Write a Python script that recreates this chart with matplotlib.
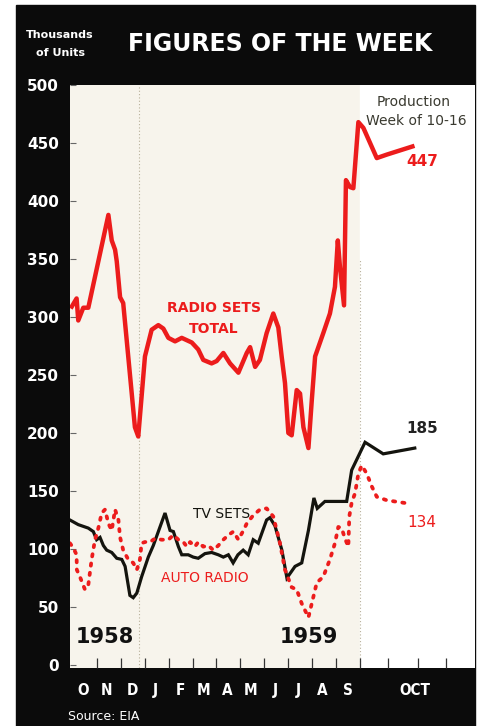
import matplotlib
matplotlib.use("Agg")
import matplotlib.pyplot as plt
from matplotlib.patches import Rectangle
import matplotlib.transforms as mtransforms

# x positions in months from Oct 1 1958 (Oct 1959 weeks on an expanded scale)
total_x = [-0.05, 0.15, 0.22, 0.43, 0.64, 1.48, 1.62, 1.76, 1.83, 1.97, 2.10, 2.59, 2.73,
           3.01, 3.29, 3.57, 3.78, 3.99, 4.27, 4.55, 4.97, 5.24, 5.45, 5.80, 6.01, 6.29,
           6.57, 6.92, 7.27, 7.41, 7.62, 7.82, 8.10, 8.38, 8.59, 8.73, 8.87, 9.01, 9.15,
           9.36, 9.50, 9.64, 9.85, 9.99, 10.13, 10.47, 10.75, 10.96, 11.08, 11.17, 11.34,
           11.42, 11.59, 11.73, 11.94, 12.15, 12.71, 13.13, 14.20]
total_y = [309, 316, 297, 308, 308, 388, 366, 358, 348, 317, 312, 205, 197,
           266, 289, 293, 290, 282, 279, 282, 278, 272, 263, 260, 262, 269,
           260, 252, 269, 274, 257, 263, 286, 303, 291, 266, 243, 200, 198,
           237, 234, 205, 187, 228, 266, 286, 303, 326, 366, 343, 310,
           418, 412, 411, 468, 463, 437, 440, 447]

tv_x = [-0.13, 0.22, 0.64, 0.85, 0.99, 1.13, 1.27, 1.41, 1.62, 1.83, 2.04, 2.18, 2.38,
        2.52, 2.67, 2.87, 3.15, 3.36, 3.57, 3.85, 4.06, 4.20, 4.41, 4.55, 4.82, 5.03,
        5.24, 5.52, 5.80, 6.08, 6.29, 6.50, 6.70, 6.90, 7.12, 7.33, 7.54, 7.75, 8.10,
        8.24, 8.45, 8.74, 8.95, 9.29, 9.57, 9.85, 10.08, 10.22, 10.54, 11.45, 11.66,
        11.94, 12.22, 12.98, 14.30]
tv_y = [125, 121, 118, 115, 108, 110, 103, 99, 97, 92, 91, 85, 60,
        58, 62, 76, 93, 103, 115, 131, 116, 115, 102, 95, 95, 93,
        92, 96, 97, 95, 93, 95, 88, 95, 99, 95, 108, 105, 125,
        127, 120, 99, 75, 85, 88, 116, 144, 135, 141, 141, 168,
        180, 192, 182, 187]

auto_x = [-0.13, 0.01, 0.15, 0.16, 0.29, 0.50, 0.64, 0.78, 0.92, 1.06, 1.20, 1.34, 1.48,
          1.62, 1.76, 1.90, 1.97, 2.10, 2.31, 2.52, 2.67, 2.80, 2.87, 3.01, 3.22, 3.43,
          3.71, 3.99, 4.20, 4.41, 4.62, 4.76, 4.90, 5.10, 5.24, 5.45, 5.66, 5.87, 6.08,
          6.29, 6.50, 6.71, 6.92, 7.13, 7.27, 7.54, 7.82, 8.10, 8.38, 8.66, 8.87, 9.15,
          9.36, 9.57, 9.85, 9.99, 10.20, 10.47, 10.75, 10.96, 11.10, 11.24, 11.38, 11.52,
          11.56, 11.66, 11.80, 11.94, 12.08, 12.29, 12.50, 12.71, 13.13, 14.10]
auto_y = [105, 101, 95, 82, 76, 65, 69, 91, 108, 118, 131, 134, 122,
          116, 134, 125, 110, 99, 91, 88, 82, 91, 105, 106, 106, 109,
          108, 108, 112, 108, 106, 102, 106, 102, 106, 102, 103, 99, 103,
          108, 112, 115, 108, 116, 122, 129, 134, 135, 128, 105, 82, 67,
          65, 53, 41, 53, 71, 76, 91, 105, 119, 118, 109, 102,
          128, 140, 148, 165, 172, 165, 154, 145, 142, 139]

y_ticks = [0, 50, 100, 150, 200, 250, 300, 350, 400, 450, 500]
month_ticks = [1, 2, 3, 4, 5, 6, 7, 8, 9, 10, 11, 12, 13.2, 14.45, 15.6]
month_labels = ["O", "N", "D", "J", "F", "M", "A", "M", "J", "J", "A", "S", "OCT"]
month_label_x = [0.42, 1.42, 2.5, 3.43, 4.48, 5.48, 6.44, 7.45, 8.45, 9.41, 10.42, 11.5, 14.3]

RED = "#ec1c1c"
DARK = "#14140e"

W, H = 484, 726
fig = plt.figure(figsize=(W / 100, H / 100), dpi=100)
fig.patch.set_facecolor("white")

# black frame behind everything
bg = fig.add_axes([0, 0, 1, 1], zorder=-5)
bg.set_xlim(0, W)
bg.set_ylim(H, 0)
bg.axis("off")
bg.add_patch(Rectangle((16, 5), 475 - 16, H - 5, color="#0b0b0b"))

ax = fig.add_axes([70 / W, (H - 668) / H, (475 - 70) / W, (668 - 85) / H])
ax.set_facecolor("#f7f4ec")
ax.axvspan(12, 17, color="white", zorder=0)
ax.set_xlim(-0.126, 16.82)
ax.set_ylim(-2.6, 500)
for s in ax.spines.values():
    s.set_visible(False)

ax.axvline(2.75, color="#b8b09a", lw=0.8, ls=(0, (1, 2)), zorder=1)
ax.plot([12, 12], [0, 350], color="#b8b09a", lw=0.8, ls=(0, (1, 2)), zorder=1)

ax.plot(tv_x, tv_y, color=DARK, lw=2.3, solid_joinstyle="miter", zorder=3)
ax.plot(auto_x, auto_y, color=RED, lw=2.7, ls=(0, (0.6, 1.9)),
        dash_capstyle="round", zorder=4)
ax.plot(total_x, total_y, color=RED, lw=3.2, solid_joinstyle="round", zorder=5)

ax.set_yticks(y_ticks)
ax.set_yticklabels([str(v) for v in y_ticks], fontsize=11, fontweight="bold")
ax.tick_params(axis="y", direction="in", length=4, width=0.8, color="#666",
               labelcolor="white", pad=8)
ax.set_xticks(month_ticks)
ax.set_xticklabels([])
ax.tick_params(axis="x", direction="in", length=7, width=0.9, color="#333")

tr = mtransforms.blended_transform_factory(ax.transData, ax.transAxes)
for x, lbl in zip(month_label_x, month_labels):
    ax.text(x, -0.038, lbl, transform=tr, ha="center", va="center", color="white",
            fontsize=11, fontweight="bold", fontstretch="condensed")

# header and footer
fig.text(60 / W, 1 - 35 / H, "Thousands", color="white", fontsize=8, fontweight="bold",
         ha="center", va="center")
fig.text(60 / W, 1 - 53 / H, "of Units", color="white", fontsize=8, fontweight="bold",
         ha="center", va="center")
fig.text(280 / W, 1 - 44 / H, "FIGURES OF THE WEEK", color="white", fontsize=17,
         fontweight="bold", ha="center", va="center")
fig.text(68 / W, 1 - 717 / H, "Source: EIA", color="white", fontsize=9,
         ha="left", va="center")

# annotations
ax.text(14.25, 485, "Production", color="#3a3a30", fontsize=10, ha="center", va="center")
ax.text(14.35, 469, "Week of 10-16", color="#3a3a30", fontsize=10, ha="center", va="center")
ax.text(14.6, 434, "447", color=RED, fontsize=11, fontweight="bold", ha="center", va="center")
ax.text(14.6, 204, "185", color="#222", fontsize=11, fontweight="bold", ha="center", va="center")
ax.text(14.6, 123, "134", color=RED, fontsize=11, ha="center", va="center")
ax.text(5.9, 308, "RADIO SETS", color=RED, fontsize=10, fontweight="bold", ha="center",
        va="center")
ax.text(5.9, 290, "TOTAL", color=RED, fontsize=10, fontweight="bold", ha="center",
        va="center")
ax.text(6.2, 130, "TV SETS", color=DARK, fontsize=10, ha="center", va="center")
ax.text(5.5, 75, "AUTO RADIO", color=RED, fontsize=10, ha="center", va="center")
ax.text(1.35, 24, "1958", color="#111", fontsize=15, fontweight="bold", ha="center", va="center")
ax.text(9.85, 24, "1959", color="#111", fontsize=15, fontweight="bold", ha="center", va="center")

fig.savefig("out.png", dpi=100)
